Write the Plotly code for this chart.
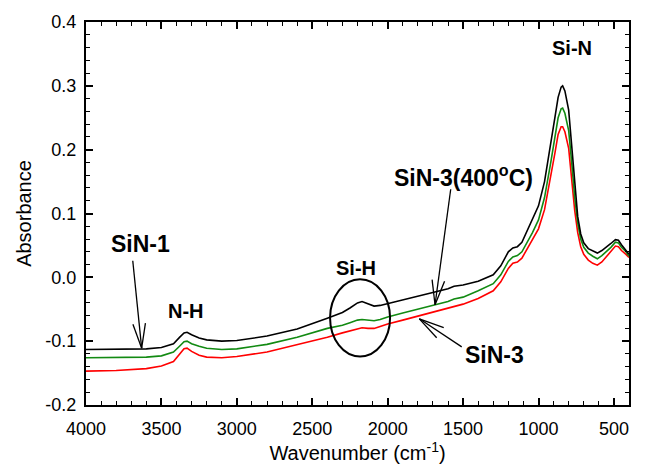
import math
import plotly.graph_objects as go

wavenumber = [4000, 3800, 3600, 3500, 3420, 3380, 3350, 3330, 3300, 3250, 3200, 3100, 3000,
              2800, 2600, 2400, 2300, 2250, 2200, 2170, 2130, 2090, 2050, 2000, 1900, 1800,
              1700, 1600, 1560, 1500, 1400, 1300, 1250, 1200, 1170, 1140, 1110, 1080, 1040,
              1000, 960, 920, 890, 870, 850, 840, 825, 800, 780, 760, 740, 720, 700, 670,
              640, 610, 580, 550, 520, 490, 470, 450, 420, 400]

sin1 = [-0.113, -0.113, -0.112, -0.110, -0.104, -0.094, -0.087, -0.086, -0.090, -0.095, -0.098,
        -0.100, -0.099, -0.092, -0.081, -0.064, -0.055, -0.048, -0.040, -0.038, -0.041, -0.045,
        -0.044, -0.041, -0.036, -0.030, -0.024, -0.018, -0.014, -0.012, -0.006, 0.004, 0.018,
        0.040, 0.046, 0.048, 0.055, 0.070, 0.090, 0.112, 0.150, 0.205, 0.252, 0.282, 0.298,
        0.300, 0.292, 0.262, 0.205, 0.140, 0.095, 0.068, 0.054, 0.045, 0.041, 0.038, 0.042,
        0.047, 0.053, 0.059, 0.058, 0.051, 0.043, 0.036]

sin3_400 = [-0.126, -0.126, -0.125, -0.123, -0.117, -0.108, -0.101, -0.100, -0.104, -0.108, -0.111,
            -0.113, -0.112, -0.105, -0.094, -0.080, -0.075, -0.071, -0.067, -0.066, -0.067, -0.068,
            -0.066, -0.062, -0.056, -0.050, -0.044, -0.038, -0.034, -0.031, -0.021, -0.010, 0.004,
            0.025, 0.032, 0.034, 0.040, 0.053, 0.070, 0.090, 0.125, 0.178, 0.222, 0.250, 0.264,
            0.265, 0.257, 0.230, 0.180, 0.125, 0.085, 0.060, 0.047, 0.038, 0.033, 0.029, 0.034,
            0.040, 0.047, 0.055, 0.054, 0.047, 0.040, 0.033]

sin3 = [-0.147, -0.146, -0.143, -0.139, -0.132, -0.120, -0.112, -0.111, -0.116, -0.122, -0.125,
        -0.126, -0.124, -0.117, -0.106, -0.094, -0.087, -0.084, -0.080, -0.079, -0.080, -0.080,
        -0.077, -0.073, -0.067, -0.061, -0.055, -0.049, -0.046, -0.042, -0.033, -0.021, -0.007,
        0.014, 0.022, 0.024, 0.030, 0.042, 0.058, 0.076, 0.106, 0.155, 0.196, 0.224, 0.236,
        0.236, 0.228, 0.202, 0.155, 0.105, 0.070, 0.048, 0.036, 0.027, 0.022, 0.019, 0.024,
        0.032, 0.040, 0.049, 0.048, 0.042, 0.036, 0.031]

y_tickvals = [-0.2, -0.1, 0.0, 0.1, 0.2, 0.3, 0.4]
y_ticktext = ["-0.2", "-0.1", "0.0", "0.1", "0.2", "0.3", "0.4"]

X_RANGE = [4000, 400]
Y_RANGE = [-0.2, 0.4]
ML, MR, MT, MB = 86, 20, 15, 61
W, H = 649, 469
PW, PH = W - ML - MR, H - MT - MB
SX = PW / abs(X_RANGE[1] - X_RANGE[0])   # px per wavenumber unit
SY = PH / (Y_RANGE[1] - Y_RANGE[0])      # px per absorbance unit

fig = go.Figure()
fig.add_trace(go.Scatter(x=wavenumber, y=sin3, mode="lines", line=dict(color="#ff0000", width=1.6)))
fig.add_trace(go.Scatter(x=wavenumber, y=sin3_400, mode="lines", line=dict(color="#128a12", width=1.6)))
fig.add_trace(go.Scatter(x=wavenumber, y=sin1, mode="lines", line=dict(color="#000000", width=1.6)))

FONT = "Liberation Sans, Arial, Helvetica, sans-serif"

# labels
labels = [
    ("SiN-1", 3640, 0.052, 23),
    ("N-H", 3337, -0.052, 20),
    ("Si-H", 2210, 0.014, 20),
    ("SiN-3(400<sup>o</sup>C)", 1494, 0.159, 23),
    ("Si-N", 778, 0.360, 20),
    ("SiN-3", 1290, -0.121, 23),
]
for txt, x, y, s in labels:
    fig.add_annotation(x=x, y=y, text="<b>%s</b>" % txt, showarrow=False,
                       font=dict(family=FONT, size=s, color="black"),
                       xanchor="center", yanchor="middle")

# arrows: (tail, tip) in data coords
arrows = [
    ((3690, 0.026), (3631, -0.111)),
    ((1582, 0.138), (1686, -0.043)),
    ((1509, -0.109), (1790, -0.065)),
]
line_style = dict(color="black", width=1.3)
for (tx, ty), (hx, hy) in arrows:
    fig.add_shape(type="line", x0=tx, y0=ty, x1=hx, y1=hy, xref="x", yref="y", line=line_style)
    # direction tail -> tip in pixel space
    dxp = (tx - hx) * SX
    dyp = (ty - hy) * SY
    L = math.hypot(dxp, dyp)
    ux, uy = dxp / L, dyp / L
    hl, ang = 26, math.radians(14)
    for sgn in (1, -1):
        c, s = math.cos(sgn * ang), math.sin(sgn * ang)
        rx = ux * c - uy * s
        ry = ux * s + uy * c
        ex = hx + rx * hl / SX
        ey = hy + ry * hl / SY
        fig.add_shape(type="line", x0=hx, y0=hy, x1=ex, y1=ey, xref="x", yref="y", line=line_style)

# ellipse around Si-H
fig.add_shape(type="circle", xref="x", yref="y", x0=2382, x1=1984, y0=-0.124, y1=-0.003,
              line=dict(color="black", width=2))

axis_common = dict(
    showline=True, linecolor="black", linewidth=2, mirror="allticks",
    ticks="inside", ticklen=7, tickwidth=1.5, tickcolor="black",
    showgrid=False, zeroline=False,
    tickfont=dict(family=FONT, size=18, color="black"),
)
fig.update_xaxes(range=X_RANGE, tick0=500, dtick=500, ticklabelstandoff=6,
                 minor=dict(dtick=100, ticks="inside", ticklen=4, tickwidth=1.3, tickcolor="black", showgrid=False),
                 title=dict(text="Wavenumber (cm<sup>-1</sup>)", font=dict(family=FONT, size=20, color="black"), standoff=4),
                 **axis_common)
fig.update_yaxes(range=Y_RANGE, tickmode="array", tickvals=y_tickvals, ticktext=y_ticktext,
                 ticklabelstandoff=4,
                 minor=dict(dtick=0.02, tick0=0, ticks="inside", ticklen=4, tickwidth=1.3, tickcolor="black", showgrid=False),
                 title=dict(text="Absorbance", font=dict(family=FONT, size=20, color="black"), standoff=8),
                 **axis_common)

fig.update_layout(width=W, height=H, margin=dict(l=ML, r=MR, t=MT, b=MB),
                  plot_bgcolor="white", paper_bgcolor="white", showlegend=False)

fig.write_html("out.html")
